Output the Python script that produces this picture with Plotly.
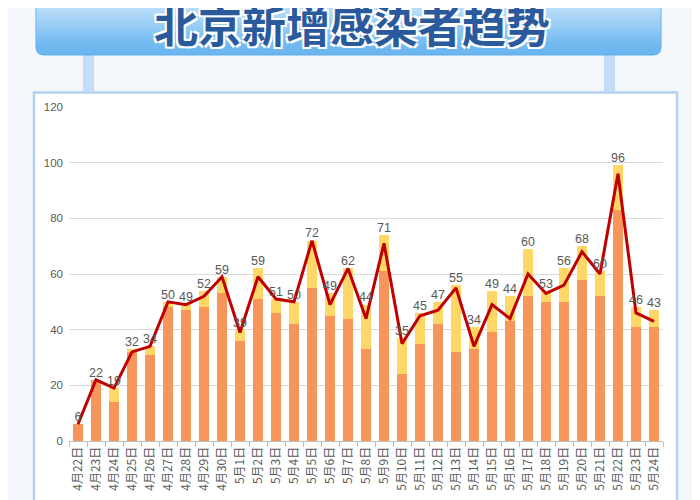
import plotly.graph_objects as go

# ---------------- data ----------------
dates = ["4月22日", "4月23日", "4月24日", "4月25日", "4月26日", "4月27日", "4月28日",
         "4月29日", "4月30日", "5月1日", "5月2日", "5月3日", "5月4日", "5月5日",
         "5月6日", "5月7日", "5月8日", "5月9日", "5月10日", "5月11日", "5月12日",
         "5月13日", "5月14日", "5月15日", "5月16日", "5月17日", "5月18日", "5月19日",
         "5月20日", "5月21日", "5月22日", "5月23日", "5月24日"]
orange_vals = [6, 22, 14, 32, 31, 48, 47, 48, 53, 36, 51, 46, 42, 55, 45, 44, 33,
               61, 24, 35, 42, 32, 33, 39, 43, 52, 50, 50, 58, 52, 83, 41, 41]
yellow_vals = [0, 0, 5, 1, 3, 2, 2, 6, 6, 4, 11, 5, 8, 17, 8, 18, 16,
               13, 13, 11, 8, 24, 8, 15, 9, 17, 4, 12, 12, 9, 16, 7, 6]
line_vals = [6, 22, 19, 32, 34, 50, 49, 52, 59, 39, 59, 51, 50, 72, 49, 62, 44,
             71, 35, 45, 47, 55, 34, 49, 44, 60, 53, 56, 68, 60, 96, 46, 43]
y_ticks = [0, 20, 40, 60, 80, 100, 120]
title_text = "北京新增感染者趋势"

# label anchor: above the taller of bar top and line point
label_pos = [max(o + y, l) for o, y, l in zip(orange_vals, yellow_vals, line_vals)]

# page body margin offsets the figure by 8px; work in screen pixels
OFF = 8
W, H = 700 - OFF, 500 - OFF
L, R, T, B = 69, 663, 107, 440.7   # plot area in screen pixels


def px(X):
    return (X - L) / (R - L)


def py(Y):
    return (B - Y) / (B - T)


fig = go.Figure()
fig.add_trace(go.Bar(x=dates, y=orange_vals, marker=dict(color="#F8955B", line_width=0),
                     hoverinfo="skip"))
fig.add_trace(go.Bar(x=dates, y=yellow_vals, marker=dict(color="#FFD766", line_width=0),
                     hoverinfo="skip"))
fig.add_trace(go.Scatter(x=dates, y=line_vals, mode="lines",
                         line=dict(color="#C00000", width=3)))
fig.add_trace(go.Scatter(x=dates, y=label_pos, mode="text",
                         text=[str(v) for v in line_vals], textposition="top center",
                         textfont=dict(family="Liberation Sans Narrow, Liberation Sans, Arial",
                                       size=12.5, color="#595959")))

shapes = []
# panel
shapes.append(dict(type="rect", xref="paper", yref="paper", layer="below",
                   x0=px(34), x1=px(677), y0=py(92.5), y1=py(520),
                   fillcolor="white", line=dict(color="#B5D1F0", width=2.5)))
# pillars
for x0, x1 in [(83, 94), (604, 615)]:
    shapes.append(dict(type="rect", xref="paper", yref="paper", layer="below",
                       x0=px(x0), x1=px(x1), y0=py(91), y1=py(54),
                       fillcolor="#C3DCF9", line_width=0))
# banner: rounded bottom in bottom color, gradient strips above
bx0, bx1, by0, by1, rr = 36, 661, -20, 55, 8
path = (f"M {px(bx0)},{py(by0)} L {px(bx1)},{py(by0)} L {px(bx1)},{py(by1 - rr)} "
        f"Q {px(bx1)},{py(by1)} {px(bx1 - rr)},{py(by1)} L {px(bx0 + rr)},{py(by1)} "
        f"Q {px(bx0)},{py(by1)} {px(bx0)},{py(by1 - rr)} Z")
shapes.append(dict(type="path", xref="paper", yref="paper", layer="below", path=path,
                   fillcolor="#6DB7F0", line=dict(color="#5DA9EA", width=1)))
top_c = (200, 229, 252)
bot_c = (112, 185, 241)
N = 24
ys = [(by1 - rr) * i / N for i in range(N + 1)]
for i in range(N):
    t = i / (N - 1)
    c = tuple(int(top_c[k] + (bot_c[k] - top_c[k]) * t) for k in range(3))
    shapes.append(dict(type="rect", xref="paper", yref="paper", layer="below",
                       x0=px(bx0 + 0.5), x1=px(bx1 - 0.5), y0=py(ys[i] - (5 if i == 0 else 0)),
                       y1=py(ys[i + 1] + 0.6),
                       fillcolor=f"rgb{c}", line_width=0))

annotations = [dict(xref="paper", yref="paper", x=px(352), y=py(24), xanchor="center",
                    yanchor="middle", showarrow=False, text=f"<b>{title_text}</b>",
                    font=dict(family="Noto Sans CJK SC", size=44, color="#2A5A9C",
                              shadow="2px 2px 0 #fff, -2px -2px 0 #fff, 2px -2px 0 #fff, -2px 2px 0 #fff"))]

fig.update_layout(
    width=W, height=H, barmode="stack", bargap=0.44, showlegend=False,
    margin=dict(l=L - OFF, r=700 - R, t=T - OFF, b=500 - B, autoexpand=False),
    paper_bgcolor="#F3F7FB", plot_bgcolor="rgba(0,0,0,0)",
    shapes=shapes, annotations=annotations,
    font=dict(family="Noto Sans CJK SC", color="#595959"),
)
fig.update_xaxes(type="category", range=[-0.5, len(dates) - 0.5], tickangle=-90,
                 showline=True, linecolor="#BFBFBF",
                 ticks="outside", tickson="boundaries", ticklen=5, tickcolor="#BFBFBF",
                 tickfont=dict(size=12, color="#595959"), showgrid=False)
fig.update_yaxes(range=[0, 120], tickvals=y_ticks, showgrid=True, gridcolor="#D9D9D9",
                 zeroline=False, ticklabelstandoff=5,
                 tickfont=dict(family="Liberation Sans, Arial", size=11.5, color="#595959"))

fig.write_html("out.html")
